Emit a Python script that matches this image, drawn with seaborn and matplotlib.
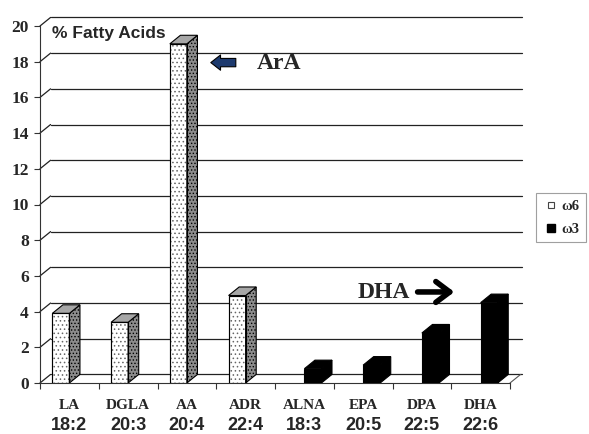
import matplotlib
matplotlib.use("Agg")
import matplotlib.pyplot as plt
from matplotlib.patches import Polygon, Rectangle
from matplotlib.lines import Line2D
import seaborn as sns
import pandas as pd

# ---- data ----
categories = ['LA', 'DGLA', 'AA', 'ADR', 'ALNA', 'EPA', 'DPA', 'DHA']
chains = ['18:2', '20:3', '20:4', '22:4', '18:3', '20:5', '22:5', '22:6']
series = ['ω6', 'ω6', 'ω6', 'ω6', 'ω3', 'ω3', 'ω3', 'ω3']
values = [3.9, 3.4, 19.0, 4.9, 0.8, 1.0, 2.8, 4.5]
yticks = [0, 2, 4, 6, 8, 10, 12, 14, 16, 18, 20]

df = pd.DataFrame({'cat': categories, 'val': values, 'series': series})

sns.set_style("white")
SERIF = 'Liberation Serif'
SANS = 'Liberation Sans'
plt.rcParams['font.family'] = [SANS, 'DejaVu Sans']
plt.rcParams['hatch.linewidth'] = 0.6

W, H = 589, 434
fig = plt.figure(figsize=(W / 100, H / 100), dpi=100)
ax = fig.add_axes([40 / W, (H - 383) / H, 470 / W, 357 / H])

sns.barplot(data=df, x='cat', y='val', hue='series', hue_order=['ω6', 'ω3'],
            order=categories, palette={'ω6': 'white', 'ω3': 'black'},
            width=0.58, dodge=True, legend=False, ax=ax, zorder=3,
            edgecolor='black', linewidth=0.8)

ax.set_xlim(-0.5, 7.5)
ax.set_ylim(0, 20)

DX, DY = 0.18, 0.48  # pseudo-3D depth offset in data units
XR = 7.7

# back-wall gridlines with diagonal connectors
for v in yticks:
    ax.plot([-0.5, -0.5 + DX], [v, v + DY], color='#222222', lw=0.9, clip_on=False, zorder=1)
    ax.plot([-0.5 + DX, XR], [v + DY, v + DY], color='#222222', lw=0.9, clip_on=False, zorder=1)
ax.plot([7.5, 7.5 + DX], [0, DY], color='#555555', lw=0.8, clip_on=False, zorder=1)

# 3D sides and tops for bars
for p in ax.patches:
    h = p.get_height()
    if not h or h != h:
        continue
    x, w = p.get_x(), p.get_width()
    x1 = x + w
    fc = p.get_facecolor()
    is_w6 = fc[0] > 0.5
    if is_w6:
        p.set_hatch('....')
        p.set_edgecolor('#666666')
        ax.add_patch(Rectangle((x, 0), w, h, fill=False, ec='black', lw=0.8, zorder=4))
        side_fc, top_fc, side_hatch = '#8c8c8c', '#a6a6a6', '.....'
    else:
        side_fc, top_fc, side_hatch = 'black', 'black', None
    side = Polygon([(x1, 0), (x1 + DX, DY), (x1 + DX, h + DY), (x1, h)], closed=True,
                   facecolor=side_fc, edgecolor='black', lw=0.8, hatch=side_hatch, zorder=3)
    top = Polygon([(x, h), (x1, h), (x1 + DX, h + DY), (x + DX, h + DY)], closed=True,
                  facecolor=top_fc, edgecolor='black', lw=0.8, zorder=3)
    ax.add_patch(side)
    ax.add_patch(top)

# axes styling
for s in ['top', 'right']:
    ax.spines[s].set_visible(False)
ax.spines['left'].set_color('#333333')
ax.spines['bottom'].set_color('#333333')
ax.set_yticks(yticks)
ax.set_yticklabels([str(v) for v in yticks], fontfamily=SERIF, fontweight='bold', fontsize=12.5)
ax.tick_params(axis='y', direction='out', length=4, width=0.8, color='#333333', pad=4, left=True)
ax.set_xticks([i - 0.5 for i in range(len(categories) + 1)])
ax.set_xticklabels([])
ax.tick_params(axis='x', direction='out', length=4, width=0.8, color='#333333', bottom=True)
ax.set_xlabel('')
ax.set_ylabel('')

for i, (c, ch) in enumerate(zip(categories, chains)):
    ax.annotate(c, xy=(i, 0), xycoords=('data', 'axes fraction'), xytext=(0, -16),
                textcoords='offset points', ha='center', va='center',
                fontfamily=SERIF, fontweight='bold', fontsize=11)
    ax.annotate(ch, xy=(i, 0), xycoords=('data', 'axes fraction'), xytext=(0, -30.5),
                textcoords='offset points', ha='center', va='center',
                fontfamily=SANS, fontweight='bold', fontsize=13)

ax.text(-0.3, 19.6, '% Fatty Acids', ha='left', va='center', fontfamily=SANS,
        fontweight='bold', fontsize=12.5, zorder=5)

# annotations
ax.text(3.19, 17.9, 'ArA', ha='left', va='center', fontfamily=SERIF, fontweight='bold', fontsize=17)
ax.annotate('', xy=(2.36, 17.95), xytext=(2.88, 17.95),
            arrowprops=dict(arrowstyle='simple,head_length=0.7,head_width=1.1,tail_width=0.6',
                            fc='#1d3a6e', ec='black', lw=0.8))
ax.text(4.9, 5.05, 'DHA', ha='left', va='center', fontfamily=SERIF, fontweight='bold', fontsize=17)
ax.annotate('', xy=(6.6, 5.1), xytext=(5.88, 5.1),
            arrowprops=dict(arrowstyle='->,head_length=1.0,head_width=0.75', color='black', lw=4))

# legend
handles = [Line2D([], [], ls='', marker='s', markersize=5, mfc='white', mec='#444444',
                  mew=0.8, label='ω6'),
           Line2D([], [], ls='', marker='s', markersize=5.5, mfc='black', mec='black', label='ω3')]
leg = fig.legend(handles=handles, loc='upper left', bbox_to_anchor=(536 / W, 1 - 193 / H),
                 frameon=True, fancybox=False, edgecolor='#888888',
                 prop={'family': SERIF, 'weight': 'bold', 'size': 10.5},
                 handlelength=1.2, handletextpad=0.1,
                 borderpad=0.46, labelspacing=0.65, borderaxespad=0)
leg.get_frame().set_linewidth(0.8)

fig.savefig('out.png', dpi=100)
